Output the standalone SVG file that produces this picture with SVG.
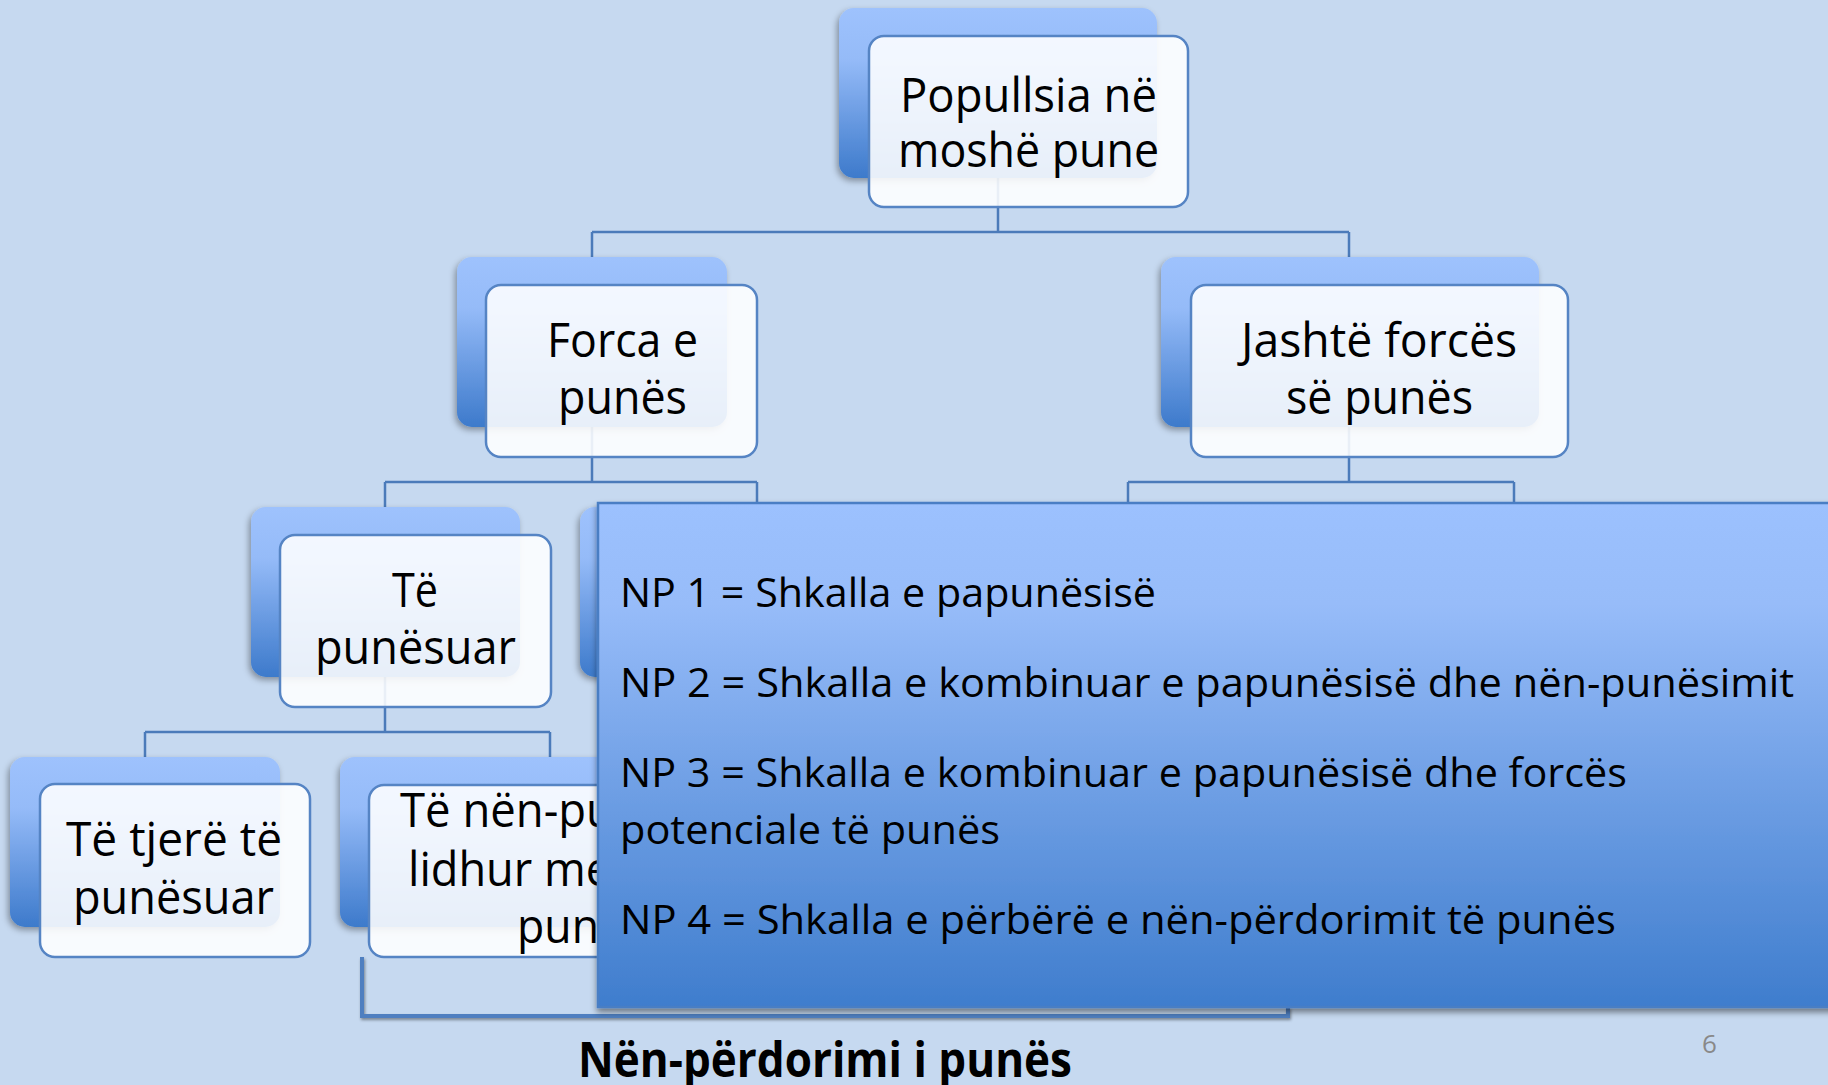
<svg xmlns="http://www.w3.org/2000/svg" width="1828" height="1085" viewBox="0 0 1828 1085">
<defs>
  <linearGradient id="backGrad" x1="0" y1="0" x2="0" y2="1">
    <stop offset="0" stop-color="#9EC2FD"/>
    <stop offset="0.3" stop-color="#95BBF8"/>
    <stop offset="1" stop-color="#3D7ACB"/>
  </linearGradient>
  <linearGradient id="boxGrad" x1="0" y1="0" x2="0" y2="1">
    <stop offset="0" stop-color="#9CC1FE"/>
    <stop offset="0.2" stop-color="#97BCF9"/>
    <stop offset="1" stop-color="#3F7DCD"/>
  </linearGradient>
  <filter id="shadow" x="-10%" y="-10%" width="120%" height="130%">
    <feDropShadow dx="-2" dy="3" stdDeviation="3" flood-color="#000" flood-opacity="0.35"/>
  </filter>
  <filter id="boxShadow" x="-5%" y="-5%" width="110%" height="115%">
    <feDropShadow dx="0" dy="4" stdDeviation="3" flood-color="#000" flood-opacity="0.45"/>
  </filter>
  <filter id="lineShadow" x="-5%" y="-50%" width="110%" height="200%">
    <feDropShadow dx="1" dy="2" stdDeviation="1.5" flood-color="#000" flood-opacity="0.4"/>
  </filter>
</defs>
<style>
  .back{fill:url(#backGrad);filter:url(#shadow)}
  .front{fill:#FFFFFF;fill-opacity:0.88;stroke:#5584C4;stroke-width:2.5}
  .conn{fill:none;stroke:#4B7BBA;stroke-width:2.5}
  .t{font-family:"Open Sans","Noto Sans",sans-serif;font-size:48px;fill:#000}
  .np{font-family:"Open Sans","Noto Sans",sans-serif;font-size:40px;fill:#000}
  .lbl{font-family:"Open Sans","Noto Sans",sans-serif;font-size:48px;font-weight:bold;fill:#000}
  .pg{font-family:"Open Sans","Noto Sans",sans-serif;font-size:26px;fill:#898989}
</style>
<rect x="0" y="0" width="1828" height="1085" fill="#C6D9F0"/>

<g id="connectors">
  <path class="conn" d="M998,178 V232 M592,232 H1349 M592,232 V257 M1349,232 V257"/>
  <path class="conn" d="M592,427 V482 M385,482 H757 M385,482 V507 M757,482 V503"/>
  <path class="conn" d="M1349,427 V482 M1128,482 H1514 M1128,482 V503 M1514,482 V503"/>
  <path class="conn" d="M385,677 V732 M145,732 H550 M145,732 V757 M550,732 V757"/>
</g>

<g id="node-popullsia">
  <rect class="back" x="839" y="8" width="318" height="170" rx="15"/>
  <rect class="front" x="869" y="36" width="319" height="171" rx="15"/>
  <text class="t" x="900" y="112" textLength="257" lengthAdjust="spacingAndGlyphs">Popullsia në</text>
  <text class="t" x="898" y="167" textLength="261" lengthAdjust="spacingAndGlyphs">moshë pune</text>
</g>

<g id="node-forca">
  <rect class="back" x="457" y="257" width="270" height="170" rx="15"/>
  <rect class="front" x="486" y="285" width="271" height="172" rx="15"/>
  <text class="t" x="547" y="357" textLength="151" lengthAdjust="spacingAndGlyphs">Forca e</text>
  <text class="t" x="558" y="414" textLength="129" lengthAdjust="spacingAndGlyphs">punës</text>
</g>

<g id="node-jashte">
  <rect class="back" x="1161" y="257" width="378" height="170" rx="15"/>
  <rect class="front" x="1191" y="285" width="377" height="172" rx="15"/>
  <text class="t" x="1241" y="357" textLength="276" lengthAdjust="spacingAndGlyphs">Jashtë forcës</text>
  <text class="t" x="1286" y="414" textLength="187" lengthAdjust="spacingAndGlyphs">së punës</text>
</g>

<g id="node-te-punesuar">
  <rect class="back" x="251" y="507" width="269" height="170" rx="15"/>
  <rect class="front" x="280" y="535" width="271" height="172" rx="15"/>
  <text class="t" x="392" y="607" textLength="46" lengthAdjust="spacingAndGlyphs">Të</text>
  <text class="t" x="315" y="664" textLength="201" lengthAdjust="spacingAndGlyphs">punësuar</text>
</g>

<g id="node-hidden-level3">
  <rect class="back" x="580" y="507" width="354" height="170" rx="15"/>
</g>

<g id="node-te-tjere">
  <rect class="back" x="10" y="757" width="270" height="170" rx="15"/>
  <rect class="front" x="40" y="784" width="270" height="173" rx="15"/>
  <text class="t" x="66" y="856" textLength="216" lengthAdjust="spacingAndGlyphs">Të tjerë të</text>
  <text class="t" x="73" y="914" textLength="201" lengthAdjust="spacingAndGlyphs">punësuar</text>
</g>

<g id="node-nen-punesuar">
  <rect class="back" x="340" y="757" width="420" height="170" rx="15"/>
  <rect class="front" x="369" y="785" width="421" height="172" rx="15"/>
  <text class="t" x="400" y="827" textLength="214" lengthAdjust="spacingAndGlyphs">Të nën-pu</text>
  <text class="t" x="408" y="886" textLength="203" lengthAdjust="spacingAndGlyphs">lidhur me</text>
  <text class="t" x="517" y="943" textLength="82" lengthAdjust="spacingAndGlyphs">pun</text>
</g>

<g id="bracket">
  <path d="M362,957 V1016 H1288 V1007" fill="none" stroke="#4F7FC0" stroke-width="4" filter="url(#lineShadow)"/>
  <text class="lbl" x="578" y="1077" textLength="494" lengthAdjust="spacingAndGlyphs">Nën-përdorimi i punës</text>
</g>

<g id="np-box">
  <rect x="598" y="503" width="1250" height="504" fill="url(#boxGrad)" stroke="#4A7EC4" stroke-width="2.5" filter="url(#boxShadow)"/>
  <text class="np" x="620" y="607" textLength="536" lengthAdjust="spacingAndGlyphs">NP 1 = Shkalla e papunësisë</text>
  <text class="np" x="620" y="697" textLength="1174" lengthAdjust="spacingAndGlyphs">NP 2 = Shkalla e kombinuar e papunësisë dhe nën-punësimit</text>
  <text class="np" x="620" y="787" textLength="1007" lengthAdjust="spacingAndGlyphs">NP 3 = Shkalla e kombinuar e papunësisë dhe forcës</text>
  <text class="np" x="620" y="844" textLength="380" lengthAdjust="spacingAndGlyphs">potenciale të punës</text>
  <text class="np" x="620" y="934" textLength="996" lengthAdjust="spacingAndGlyphs">NP 4 = Shkalla e përbërë e nën-përdorimit të punës</text>
</g>

<text class="pg" x="1702" y="1053">6</text>
</svg>
